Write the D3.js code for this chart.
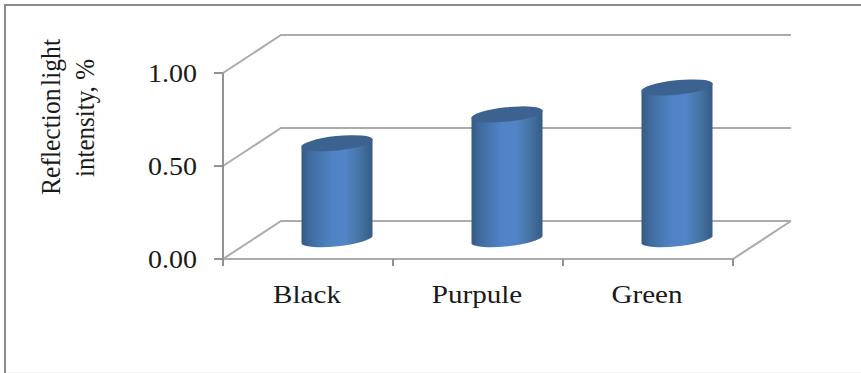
<!DOCTYPE html>
<html>
<head>
<meta charset="utf-8">
<script src="https://cdnjs.cloudflare.com/ajax/libs/d3/7.8.5/d3.min.js"></script>
<style>
html,body{margin:0;padding:0;background:#fff;}
svg{display:block;}
text{font-family:"Liberation Serif","Times New Roman",serif;fill:#1a1a1a;}
</style>
</head>
<body>
<svg id="chart" width="861" height="373"></svg>
<script>
// Reflection light intensity by colour
const categories = ["Black", "Purpule", "Green"];
const values = [0.52, 0.675, 0.82];
const yTicks = [0, 0.5, 1];
const axisTitleLines = ["Reflection light", "intensity, %"];

const svg = d3.select("#chart");
const gridColor = "#ababab";
const axisColor = "#929292";

const x = d3.scaleBand().domain(categories).range([223, 733]);
const y = d3.scaleLinear().domain([0, 1]).range([259, 73]);
const depth = { dx: 58, dy: -38 };
const barWidth = 71;

// outer frame
svg.append("path")
  .attr("d", "M5,373V5H861")
  .attr("fill", "none").attr("stroke", "#8a8a8a").attr("stroke-width", 2);
svg.append("line")
  .attr("x1", 6).attr("x2", 861).attr("y1", 372.5).attr("y2", 372.5)
  .attr("stroke", "#f2f2f2").attr("stroke-width", 1);

// back wall gridlines and their side-wall returns
const grid = svg.append("g").attr("fill", "none").attr("stroke", gridColor).attr("stroke-width", 2);
yTicks.forEach(t => {
  const px = y(t);
  grid.append("path").attr("d", d3.line()([
    [x.range()[0], px],
    [x.range()[0] + depth.dx, px + depth.dy],
    [x.range()[1] + depth.dx, px + depth.dy]
  ]));
});

// floor edges
svg.append("path")
  .attr("d", d3.line()([
    [x.range()[1] + depth.dx, y(0) + depth.dy],
    [x.range()[1], y(0)],
    [x.range()[0], y(0)]
  ]))
  .attr("fill", "none").attr("stroke", gridColor).attr("stroke-width", 2);

// value axis
const axis = svg.append("g").attr("fill", "none").attr("stroke", axisColor).attr("stroke-width", 2);
axis.append("line").attr("x1", x.range()[0]).attr("x2", x.range()[0]).attr("y1", y(1)).attr("y2", y(0) + 7);
yTicks.forEach(t => {
  axis.append("line").attr("x1", x.range()[0] - 9).attr("x2", x.range()[0]).attr("y1", y(t)).attr("y2", y(t));
});

// category ticks
const catEdges = categories.map(c => x(c)).concat(x.range()[1]);
catEdges.forEach(v => {
  axis.append("line").attr("x1", v).attr("x2", v).attr("y1", y(0)).attr("y2", y(0) + 7);
});

// cylinder shading
const defs = svg.append("defs");
const grad = defs.append("linearGradient").attr("id", "barShade")
  .attr("x1", "0").attr("x2", "1").attr("y1", "0").attr("y2", "0");
[[0, "#355a82"], [0.12, "#3f6b9e"], [0.42, "#5083c5"], [0.62, "#5285c8"], [0.84, "#44719f"], [1, "#355b86"]]
  .forEach(([o, c]) => grad.append("stop").attr("offset", o).attr("stop-color", c));

const rx = 36, ry = 7.2, tilt = -6;
const tiltRad = tilt * Math.PI / 180;
const edgeDy = rx * Math.sin(tiltRad);

const bars = svg.append("g").selectAll("g").data(categories).join("g");
bars.each(function (c, i) {
  const g = d3.select(this);
  const cx = x(c) + x.bandwidth() / 2 + depth.dx / 2;
  const yBase = y(0) + depth.dy / 2;
  const yTop = y(values[i]) + depth.dy / 2;
  const hw = barWidth / 2;

  // side surface, closed by the lower half of the tilted base ellipse
  g.append("path")
    .attr("d", `M${cx - hw},${yTop - edgeDy}
      L${cx + hw},${yTop + edgeDy}
      L${cx + hw},${yBase + edgeDy}
      A${rx},${ry} ${tilt} 0 1 ${cx - hw},${yBase - edgeDy}Z`)
    .attr("fill", "url(#barShade)");

  // top cap
  g.append("ellipse")
    .attr("cx", cx).attr("cy", yTop).attr("rx", rx).attr("ry", ry)
    .attr("transform", `rotate(${tilt} ${cx} ${yTop})`)
    .attr("fill", "#3c628f");
});

// value tick labels, set slightly wide
svg.append("g").selectAll("text").data(yTicks).join("text")
  .attr("transform", d => `translate(197,${y(d)}) scale(1.12,1)`)
  .attr("dy", "0.34em")
  .attr("text-anchor", "end")
  .attr("font-size", 25)
  .text(d => d3.format(".2f")(d));

// category labels, set slightly wide
svg.append("g").selectAll("text").data(categories).join("text")
  .attr("transform", d => `translate(${x(d) + x.bandwidth() / 2 - 1},303) scale(1.12,1)`)
  .attr("text-anchor", "middle")
  .attr("font-size", 26)
  .text(d => d);

// rotated value-axis title, one text per line
const titleLengths = [156, 118];
const titleWordSpacing = [-4, 0];
svg.append("g").selectAll("text").data(axisTitleLines).join("text")
  .attr("transform", (d, i) => `translate(${60 + i * 34},${117 + i}) rotate(-90)`)
  .attr("text-anchor", "middle")
  .attr("font-size", 27)
  .attr("word-spacing", (d, i) => titleWordSpacing[i])
  .attr("textLength", (d, i) => titleLengths[i])
  .attr("lengthAdjust", "spacingAndGlyphs")
  .text(d => d);
</script>
</body>
</html>
